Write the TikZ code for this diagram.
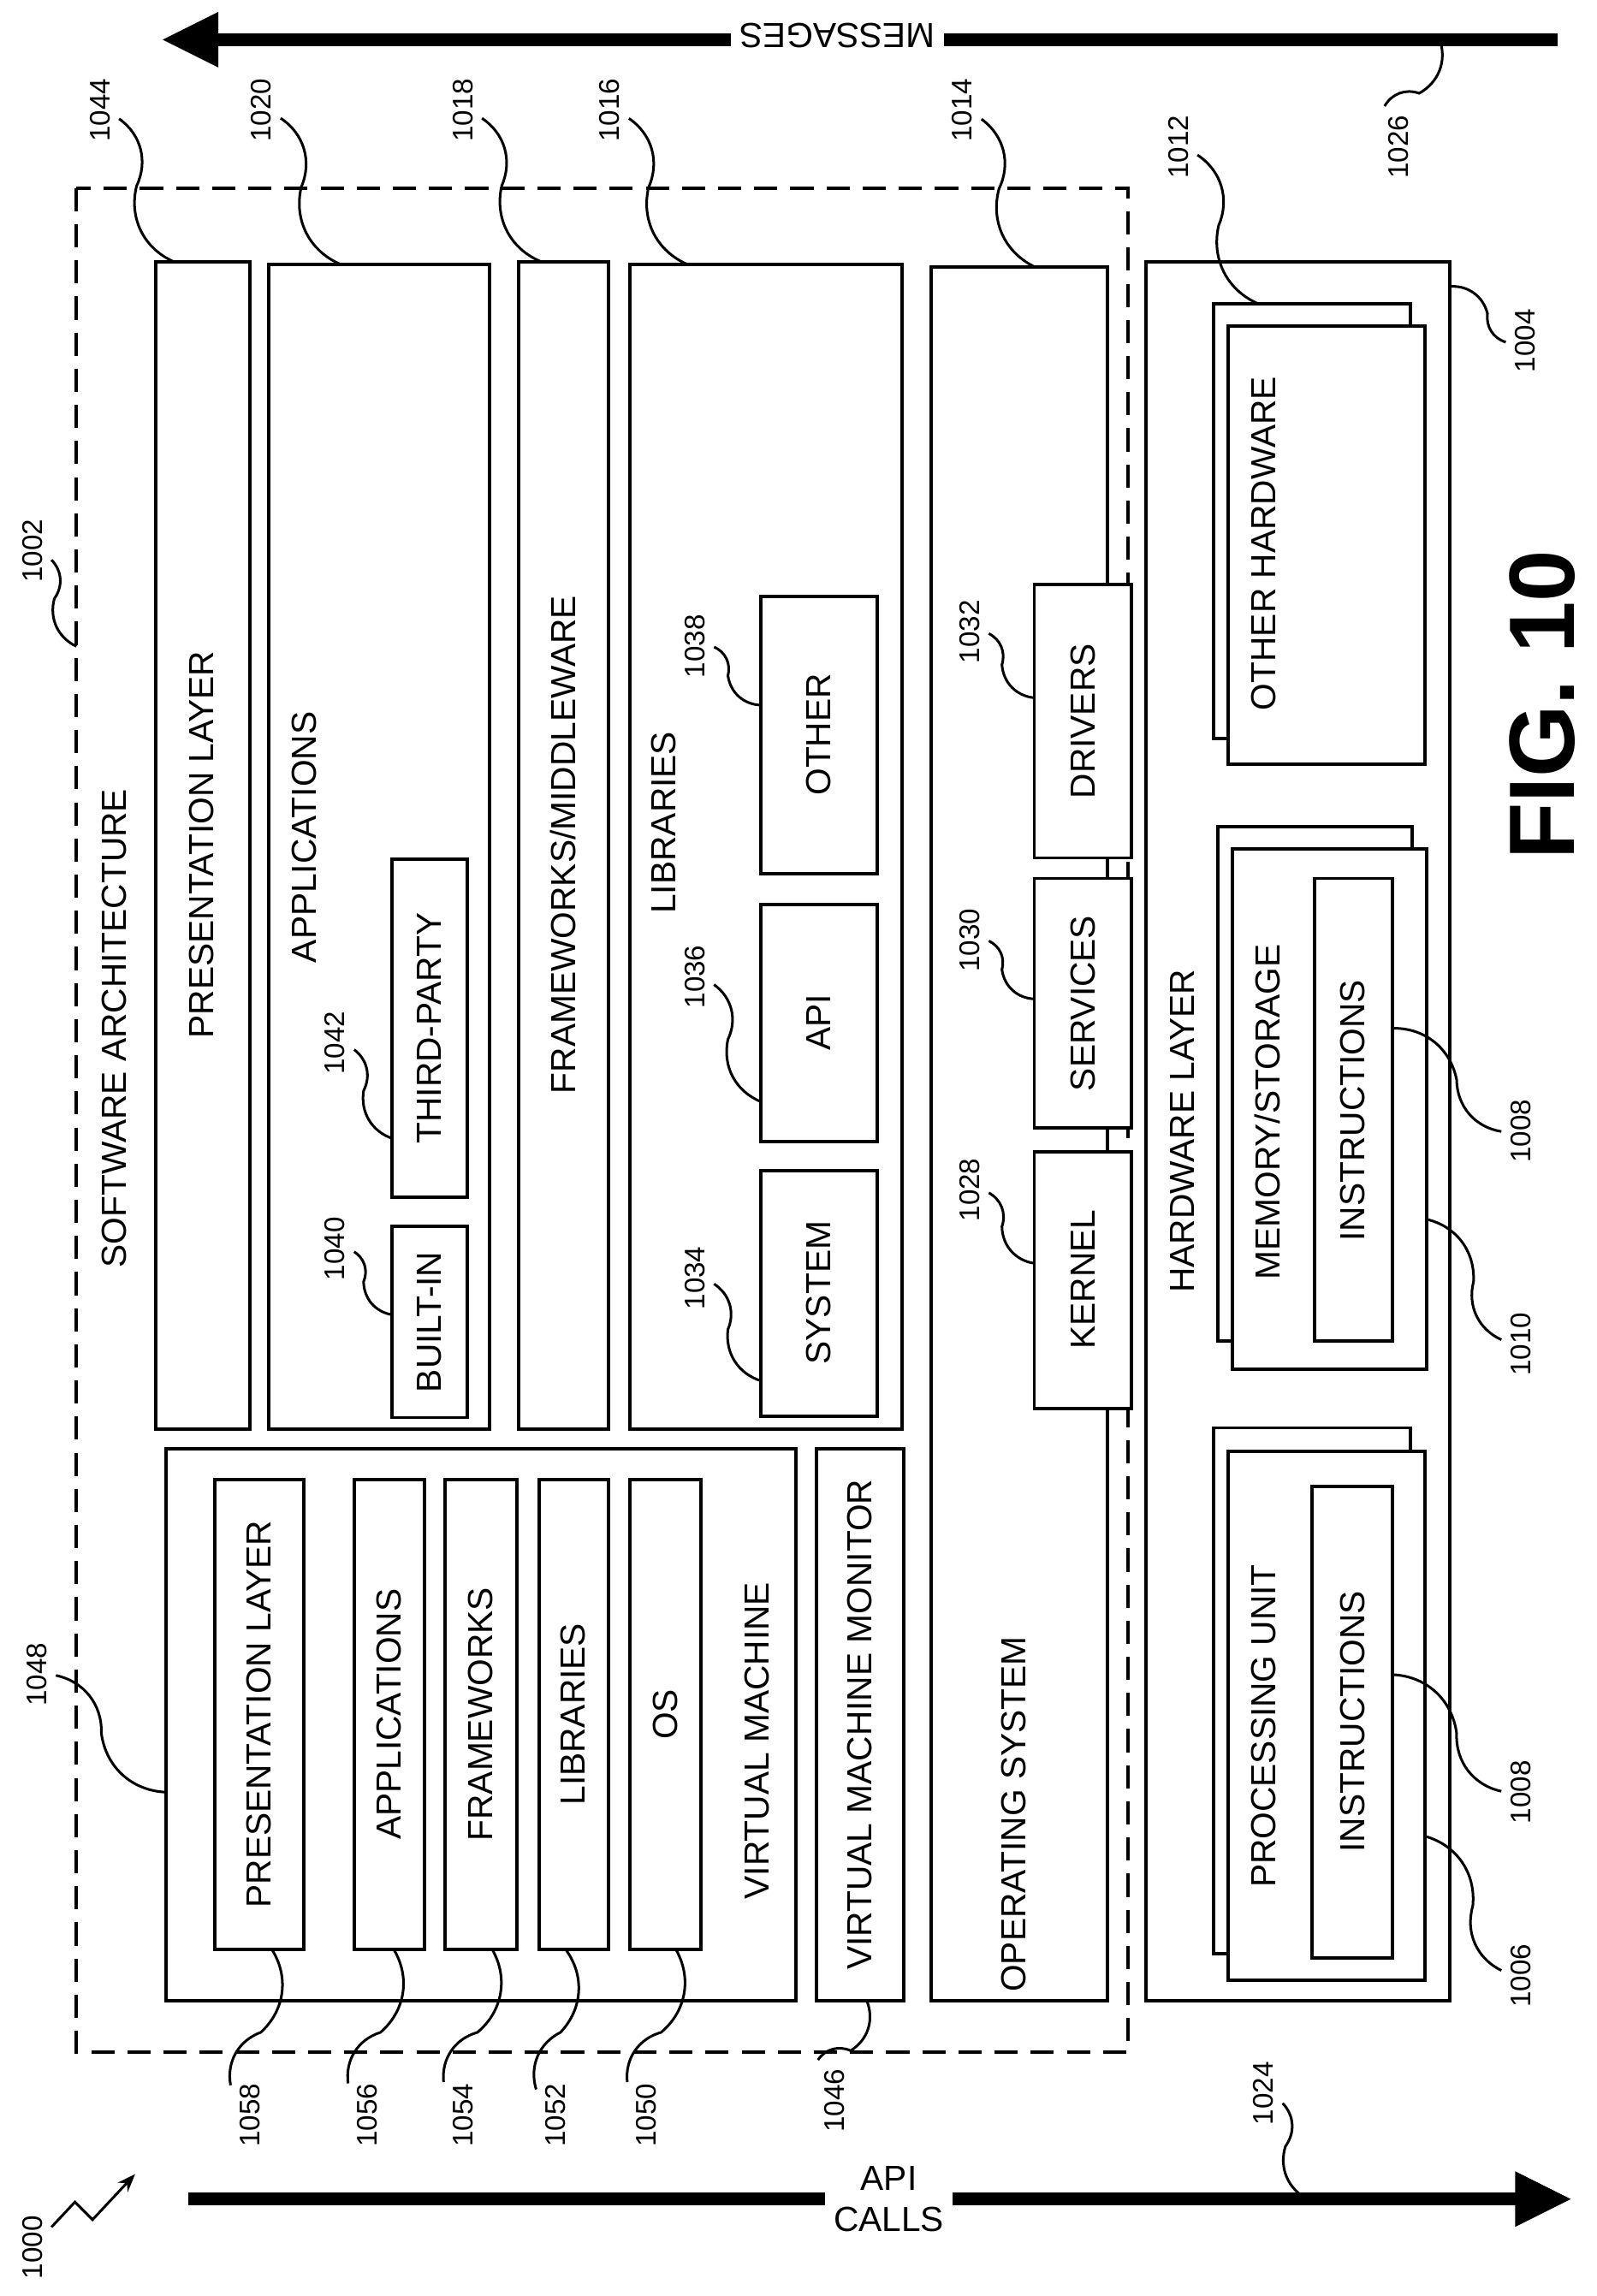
\documentclass[tikz,border=0pt]{standalone}
\usepackage{fontspec}
\setmainfont{Liberation Sans}
\usetikzlibrary{calc,arrows.meta}
\tikzset{
  blk/.style={draw, line width=1.3pt, fill=white},
  lbl/.style={rotate=90, font=\fontsize{13.5}{16}\selectfont},
  num/.style={rotate=90, font=\fontsize{11}{13}\selectfont},
  lead/.style={line width=1pt},
  bigarrow/.style={line width=5pt, -{Triangle[length=22pt,width=20pt]}}
}
% \refnum{name}{label point}{target point}
\newcommand{\refnum}[3]{%
  \node[num] (n#1) at (#2) {#1};
  \coordinate (t#1) at (#3);
  \draw[lead] (n#1) to[bend left=40] ($(n#1)!0.5!(t#1)$) to[bend right=40] (t#1);}
\begin{document}
\begin{tikzpicture}[x=0.02cm,y=-0.02cm]
\fill[white] (0,0) rectangle (1087,1563);
\useasboundingbox (0,0) rectangle (1087,1563);

% message and call arrows
\draw[bigarrow] (1060,27) -- (110,27);
\node[rotate=180, fill=white, font=\fontsize{13.5}{16}\selectfont] (msg) at (570,24) {MESSAGES};
\draw[bigarrow] (128,1497) -- (1070,1497);
\node[fill=white, align=center, font=\fontsize{13.5}{16}\selectfont] (api) at (605,1497) {API\\CALLS};

% software architecture
\draw[dash pattern=on 9pt off 5pt, line width=1.3pt] (52,128) rectangle (768,1397);
\node[lbl] (swa) at (78,700) {SOFTWARE ARCHITECTURE};

\draw[blk] (106,178) rectangle (170,973);
\node[lbl] (pres) at (137,575) {PRESENTATION LAYER};

\draw[blk] (183,180) rectangle (333,973);
\node[lbl] (apps) at (207,570) {APPLICATIONS};
\draw[blk] (267,835) rectangle (318,965);
\node[lbl] (bin) at (292,900) {BUILT-IN};
\draw[blk] (267,585) rectangle (318,815);
\node[lbl] (tp) at (292,700) {THIRD-PARTY};

\draw[blk] (353,178) rectangle (414,973);
\node[lbl] (fw) at (383,575) {FRAMEWORKS/MIDDLEWARE};

\draw[blk] (429,180) rectangle (614,973);
\node[lbl] (libs) at (452,560) {LIBRARIES};
\draw[blk] (518,797) rectangle (597,964);
\node[lbl] (sys) at (557,880) {SYSTEM};
\draw[blk] (518,616) rectangle (597,777);
\node[lbl] (apib) at (557,696) {API};
\draw[blk] (518,406) rectangle (597,595);
\node[lbl] (oth) at (557,500) {OTHER};

\draw[blk] (634,182) rectangle (754,1362);
\node[lbl] (os) at (690,1235) {OPERATING SYSTEM};
\draw[blk] (704,784) rectangle (770,959);
\node[lbl] (ker) at (737,871) {KERNEL};
\draw[blk] (704,598) rectangle (770,768);
\node[lbl] (srv) at (737,683) {SERVICES};
\draw[blk] (704,398) rectangle (770,584);
\node[lbl] (drv) at (737,491) {DRIVERS};

% virtual machine
\draw[blk] (113,986) rectangle (542,1362);
\node[lbl] (vm) at (515,1185) {VIRTUAL MACHINE};
\draw[blk] (146,1007) rectangle (207,1327);
\node[lbl] (vpres) at (176,1167) {PRESENTATION LAYER};
\draw[blk] (241,1007) rectangle (289,1327);
\node[lbl] (vapp) at (265,1167) {APPLICATIONS};
\draw[blk] (303,1007) rectangle (352,1327);
\node[lbl] (vfw) at (327,1167) {FRAMEWORKS};
\draw[blk] (367,1007) rectangle (414,1327);
\node[lbl] (vlib) at (390,1167) {LIBRARIES};
\draw[blk] (429,1007) rectangle (477,1327);
\node[lbl] (vos) at (453,1167) {OS};
\draw[blk] (556,986) rectangle (615,1362);
\node[lbl] (vmm) at (585,1174) {VIRTUAL MACHINE MONITOR};

% hardware layer
\draw[blk] (780,178) rectangle (987,1362);
\node[lbl] (hw) at (805,770) {HARDWARE LAYER};
\draw[blk] (826,207) rectangle (960,503);
\draw[blk] (836,222) rectangle (970,520);
\node[lbl] (ohw) at (860,370) {OTHER HARDWARE};
\draw[blk] (829,563) rectangle (961,913);
\draw[blk] (839,578) rectangle (971,932);
\node[lbl] (mem) at (863,757) {MEMORY/STORAGE};
\draw[blk] (895,598) rectangle (948,913);
\node[lbl] (ins1) at (921,756) {INSTRUCTIONS};
\draw[blk] (826,972) rectangle (960,1330);
\draw[blk] (836,988) rectangle (970,1348);
\node[lbl] (pu) at (860,1175) {PROCESSING UNIT};
\draw[blk] (893,1012) rectangle (948,1333);
\node[lbl] (ins2) at (921,1172) {INSTRUCTIONS};

\node[rotate=90, font=\bfseries\fontsize{36}{40}\selectfont] (fig) at (1050,480) {FIG. 10};

% reference numbers
\refnum{1044}{68,75}{118,178}
\refnum{1020}{178,75}{232,180}
\refnum{1018}{315,75}{368,178}
\refnum{1016}{415,75}{468,180}
\refnum{1014}{655,75}{705,182}
\refnum{1012}{802,100}{857,207}
\refnum{1026}{952,100}{980,27}
\refnum{1004}{1038,232}{987,195}
\refnum{1002}{22,375}{52,440}
\refnum{1038}{473,440}{518,480}
\refnum{1032}{660,430}{704,475}
\refnum{1030}{660,640}{704,680}
\refnum{1036}{473,665}{518,750}
\refnum{1042}{228,710}{267,775}
\refnum{1040}{228,850}{267,895}
\refnum{1034}{473,870}{518,940}
\refnum{1028}{660,810}{704,860}
\refnum{1048}{25,1140}{113,1220}
\refnum{1008}{1035,770}{948,700}
\refnum{1010}{1035,915}{971,830}
\node[num] (n1008b) at (1035,1220) {1008};
\coordinate (t1008b) at (948,1140);
\draw[lead] (n1008b) to[bend left=40] ($(n1008b)!0.5!(t1008b)$) to[bend right=40] (t1008b);
\refnum{1006}{1035,1345}{970,1250}
\refnum{1058}{170,1440}{185,1327}
\refnum{1056}{250,1440}{268,1327}
\refnum{1054}{315,1440}{335,1327}
\refnum{1052}{378,1440}{385,1327}
\refnum{1050}{440,1440}{460,1327}
\refnum{1046}{568,1430}{590,1362}
\refnum{1024}{860,1425}{890,1497}
\node[num] (n1000) at (22,1530) {1000};
\coordinate (t1000) at (92,1480);
\draw[lead, -{Stealth[length=7pt]}] (n1000) -- ($(n1000)!0.5!(t1000)+(-6,-6)$) -- ($(n1000)!0.5!(t1000)+(6,6)$) -- (t1000);
\end{tikzpicture}
\end{document}
